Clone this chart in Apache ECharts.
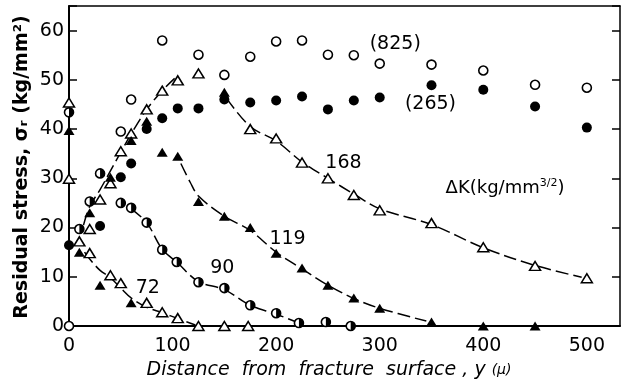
<!DOCTYPE html>
<html><head><meta charset="utf-8">
<script src="https://cdn.jsdelivr.net/npm/echarts@6.0.0/dist/echarts.min.js"></script>
<style>html,body{margin:0;padding:0;background:#fff}#c{width:631px;height:390px}</style>
</head><body><div id="c"></div>
<script>
// tick labels
const xTicks = [0, 100, 200, 300, 400, 500];
const yTicks = [0, 10, 20, 30, 40, 50, 60];

// markers: [distance y (µ), residual stress (kg/mm2)]
const openCircles = [[0,0],[50,39.5],[60,46],[90,58],[125,55.1],[150,51],[175,54.7],[200,57.8],[225,58],[250,55.1],[275,55],[300,53.3],[350,53.1],[400,51.9],[450,49],[500,48.4]];
const filledCircles = [[0,16.4],[30,20.3],[50,30.2],[60,33],[75,40],[90,42.2],[105,44.2],[125,44.2],[150,46],[175,45.4],[200,45.8],[225,46.6],[250,44],[275,45.8],[300,46.4],[350,48.9],[400,48],[450,44.6],[500,40.3]];
const openTriangles = [[0,45.4],[0,29.9],[10,17.2],[20,19.7],[20,14.8],[30,25.7],[40,29],[40,10.3],[50,35.5],[50,8.7],[60,39.1],[75,44],[75,4.7],[90,47.8],[90,2.8],[105,49.9],[105,1.6],[125,51.3],[125,0],[150,0],[173,0],[175,40],[200,38.1],[225,33.2],[250,30],[275,26.6],[300,23.5],[350,20.9],[400,16],[450,12.2],[500,9.7]];
const filledTriangles = [[0,39.7],[10,15],[20,23],[30,8.3],[40,30.2],[60,37.7],[60,4.7],[75,41.6],[90,35.3],[105,34.5],[125,25.3],[150,47.5],[150,22.3],[175,20],[200,14.8],[225,11.8],[250,8.3],[275,5.7],[300,3.6],[350,0.8],[400,0],[450,0]];
const halfCircles = [[0,43.4],[10,19.7],[20,25.3],[30,31],[50,25],[60,24],[75,21],[90,15.5],[104,13],[125,8.9],[150,7.7],[175,4.2],[200,2.6],[222,0.6],[248,0.8],[272,0]];

// hand-drawn dashed curves
const curve168Up = [[14,20.5],[20,24.3],[30,27.7],[40,31.5],[50,35.3],[60,39],[75,44],[90,47.8],[102,50.3]];
const curve168Down = [[152,46.3],[175,40.5],[200,37.6],[225,33.3],[250,30],[275,26.8],[300,23.8],[350,20.6],[400,15.9],[450,12.3],[495,9.9]];
const curve119 = [[108,33],[117,29.2],[125,26.4],[150,22.3],[175,19.4],[200,15],[225,11.6],[250,8.3],[275,5.6],[300,3.6],[345,1]];
const curve90 = [[60,23.8],[75,21],[90,15.6],[105,12.8],[125,9],[150,7.4],[175,4.2],[200,2.4],[222,0.6]];
const curve72 = [[15,15],[20,13.6],[30,11.3],[40,9.8],[50,7.7],[60,5.7],[75,3.8],[90,2.7],[105,1.5],[122,0.2]];

// annotations
const annoText = ['(825)', '(265)', '168', '119', '90', '72'];
const annoX = [315, 349, 265, 211, 148, 76];
const annoY = [57.2, 45, 33, 17.6, 11.8, 7.7];
const dkPos = [421, 28];

const FONT = 'DejaVu Sans';
const chart = echarts.init(document.getElementById('c'), null, {renderer: 'canvas'});

function scatter(data, symbol, size, filled, extra) {
  return Object.assign({
    type: 'scatter', data: data, symbol: symbol, symbolSize: size, z: 5,
    itemStyle: filled ? {color: '#000', opacity: 1} : {color: '#fff', borderColor: '#000', borderWidth: 1.6, opacity: 1},
    emphasis: {disabled: true}, animation: false
  }, extra || {});
}
function curve(data) {
  return {type: 'line', data: data, smooth: 0.35, showSymbol: false, symbol: 'none', z: 2,
    lineStyle: {color: '#000', width: 1.5, type: [13, 5]}, animation: false, emphasis: {disabled: true}};
}

const axisLabel = (ticks) => ({
  formatter: v => ticks.includes(v) ? String(v) : '',
  fontSize: 19, color: '#000', fontFamily: FONT
});

chart.setOption({
  backgroundColor: '#fff',
  animation: false,
  grid: {left: 69, right: 11, top: 6, bottom: 64, containLabel: false},
  xAxis: [
    {type: 'value', min: 0, max: 532, interval: 100, position: 'bottom',
     axisLine: {show: true, onZero: false, lineStyle: {color: '#000', width: 2}},
     axisTick: {show: false}, splitLine: {show: false},
     axisLabel: Object.assign(axisLabel(xTicks), {margin: 11})},
    {type: 'value', min: 0, max: 532, position: 'top',
     axisLine: {show: true, onZero: false, lineStyle: {color: '#000', width: 1.5}},
     axisTick: {show: false}, axisLabel: {show: false}, splitLine: {show: false}}
  ],
  yAxis: [
    {type: 'value', min: 0, max: 65, interval: 10, position: 'left',
     axisLine: {show: true, onZero: false, lineStyle: {color: '#000', width: 2}},
     axisTick: {show: true, inside: true, length: 8, lineStyle: {color: '#000', width: 1.5}},
     splitLine: {show: false},
     axisLabel: Object.assign(axisLabel(yTicks), {margin: 5})},
    {type: 'value', min: 0, max: 65, interval: 10, position: 'right',
     axisLine: {show: true, onZero: false, lineStyle: {color: '#000', width: 1.5}},
     axisTick: {show: true, inside: true, length: 8, lineStyle: {color: '#000', width: 1.5}},
     splitLine: {show: false}, axisLabel: {show: false}}
  ],
  series: [
    curve(curve168Up), curve(curve168Down), curve(curve119), curve(curve90), curve(curve72),
    scatter(openCircles, 'circle', 9, false),
    scatter(filledCircles, 'circle', 10, true),
    scatter(openTriangles, 'triangle', [11, 9], false, {itemStyle: {color: '#fff', borderColor: '#000', borderWidth: 1.5, opacity: 1}}),
    scatter(filledTriangles, 'triangle', [11, 9], true, {z: 6}),
    scatter(halfCircles, 'circle', 9, false),
    scatter(halfCircles, 'path://M0,0 C5.52,0 10,4.48 10,10 C10,15.52 5.52,20 0,20 Z', [4.6, 9.2], true, {symbolOffset: [2.3, 0], z: 7})
  ]
});

const g = [];
annoText.forEach((t, i) => {
  const p = chart.convertToPixel({gridIndex: 0}, [annoX[i], annoY[i]]);
  g.push({type: 'text', x: p[0], y: p[1], z: 20,
    style: {text: t, font: '19px "' + FONT + '"', fill: '#000', textAlign: 'center', textVerticalAlign: 'middle'}});
});
const dk = chart.convertToPixel({gridIndex: 0}, dkPos);
g.push({type: 'text', x: dk[0], y: dk[1], z: 20,
  style: {text: '{a|ΔK(kg/mm}{s|3/2}{a|)}', textAlign: 'center', textVerticalAlign: 'middle',
    rich: {a: {fontSize: 18, fontFamily: FONT, color: '#000', lineHeight: 22},
           s: {fontSize: 11, fontFamily: FONT, color: '#000', verticalAlign: 'top', lineHeight: 22, padding: [0, 0, 8, 0]}}}});
// axis titles
g.push({type: 'text', x: 22, y: 167, rotation: Math.PI / 2, z: 20,
  style: {text: 'Residual stress, σᵣ (kg/mm²)', font: 'bold 19px "' + FONT + '"', fill: '#000', textAlign: 'center', textVerticalAlign: 'middle'}});
g.push({type: 'text', x: 329, y: 370, z: 20,
  style: {text: '{a|Distance  from  fracture  surface , y }{b|(μ)}', textAlign: 'center', textVerticalAlign: 'middle',
    rich: {a: {fontSize: 19, fontStyle: 'italic', fontFamily: FONT, color: '#000'},
           b: {fontSize: 14, fontStyle: 'italic', fontFamily: FONT, color: '#000'}}}});
chart.setOption({graphic: g});
</script>
</body></html>
